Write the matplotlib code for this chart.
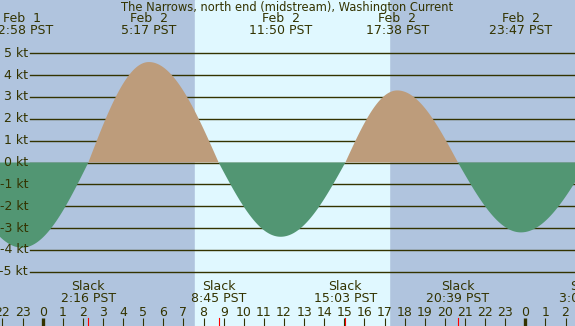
import numpy as np
import matplotlib
matplotlib.use("Agg")
import matplotlib.pyplot as plt
import matplotlib.transforms as mtransforms

# Tide current events, hours from midnight Feb 2 (PST)
max_hours = [-1.03, 5.28, 11.83, 17.63, 23.78]
max_speeds = [-3.9, 4.6, -3.4, 3.3, -3.2]
max_days = ["Feb  1", "Feb  2", "Feb  2", "Feb  2", "Feb  2"]
max_labels = ["22:58 PST", "5:17 PST", "11:50 PST", "17:38 PST", "23:47 PST"]

slack_hours = [-4.4, 2.27, 8.75, 15.05, 20.65, 27.07]
slack_labels = ["19:24 PST", "2:16 PST", "8:45 PST", "15:03 PST", "20:39 PST", "3:04 PST"]

sunrise = 7.57
sunset = 17.22
kt_levels = [5, 4, 3, 2, 1, 0, -1, -2, -3, -4, -5]
hours = list(range(-2, 27))

title = "The Narrows, north end (midstream), Washington Current"

night = "#b0c4de"
day = "#e0f8ff"
flood = "#bd9c7b"
ebb = "#529673"
ink = "#333300"

W, H = 575, 326
x0_px, px_hr = 42.7, 20.11
y0_px, px_kt = 162.5, 21.84
xlim = (-x0_px / px_hr, (W - x0_px) / px_hr)
ylim = (-(H - y0_px) / px_kt, y0_px / px_kt)

# curve: sine quarter-waves between slack and max events
ev = sorted([(t, 0.0) for t in slack_hours] + list(zip(max_hours, max_speeds)))
t_all, v_all = [], []
for (ta, va), (tb, vb) in zip(ev[:-1], ev[1:]):
    s = np.linspace(0, 1, 60)
    if va == 0.0:
        v = vb * np.sin(np.pi / 2 * s)
    else:
        v = va * np.cos(np.pi / 2 * s)
    t_all.append(ta + (tb - ta) * s)
    v_all.append(v)
t_all = np.concatenate(t_all)
v_all = np.concatenate(v_all)

fig = plt.figure(figsize=(W / 100, H / 100), dpi=100)
ax = fig.add_axes([0, 0, 1, 1])
ax.set_xlim(*xlim)
ax.set_ylim(*ylim)
ax.axis("off")
fig.patch.set_facecolor(night)

ax.axvspan(xlim[0], xlim[1], color=night, zorder=0)
ax.axvspan(sunrise, sunset, color=day, zorder=0.5)

yax = mtransforms.blended_transform_factory(ax.transAxes, ax.transData)
xax = mtransforms.blended_transform_factory(ax.transData, ax.transAxes)

for k in kt_levels:
    ax.plot([30 / W, 1], [k, k], transform=yax, color=ink, lw=1.0, zorder=1)
    ax.text(28 / W, k, f"{k} kt", transform=yax, ha="right", va="center",
            fontsize=9, color=ink)

ax.fill_between(t_all, 0, v_all, where=v_all >= 0, color=flood, lw=0, zorder=2)
ax.fill_between(t_all, 0, v_all, where=v_all <= 0, color=ebb, lw=0, zorder=2)

def fy(px):
    return 1 - px / H

ax.text(287 / W, fy(7), title, transform=ax.transAxes, ha="center", va="center",
        fontsize=8.3, color=ink)
for t, d, lab in zip(max_hours, max_days, max_labels):
    ax.text(t, fy(19), d, transform=xax, ha="center", va="center", fontsize=9, color=ink)
    ax.text(t, fy(30), lab, transform=xax, ha="center", va="center", fontsize=9, color=ink)

for t, lab in zip(slack_hours, slack_labels):
    if t > xlim[0]:
        ax.text(t, fy(287), "Slack", transform=xax, ha="center", va="center", fontsize=9, color=ink)
        ax.text(t, fy(299), lab, transform=xax, ha="center", va="center", fontsize=9, color=ink)
    ax.plot([t, t], [fy(318), 0], transform=xax, color="red", lw=0.8, zorder=3)

for h in hours:
    ax.text(h, fy(312), str(h % 24), transform=xax, ha="center", va="center",
            fontsize=9, color=ink)
    lw = 2.4 if h % 24 == 0 else 0.8
    ax.plot([h, h], [fy(318), 0], transform=xax, color=ink, lw=lw, zorder=3,
            solid_capstyle="butt")

fig.savefig("out.png", dpi=100, facecolor=night)
